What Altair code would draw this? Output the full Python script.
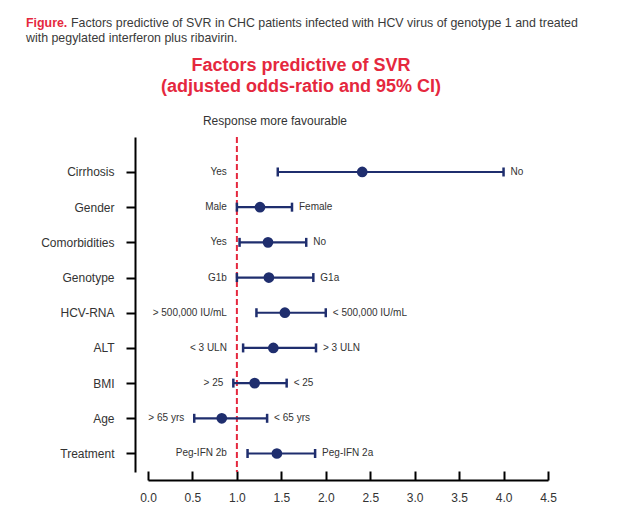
import altair as alt
import pandas as pd

# ---- data ----
factors = ["Cirrhosis", "Gender", "Comorbidities", "Genotype", "HCV-RNA",
           "ALT", "BMI", "Age", "Treatment"]
odds_ratio = [2.41, 1.26, 1.35, 1.36, 1.54, 1.41, 1.20, 0.83, 1.45]
ci_low = [1.46, 1.00, 1.03, 1.00, 1.22, 1.07, 0.96, 0.52, 1.12]
ci_high = [4.00, 1.62, 1.78, 1.86, 2.00, 1.89, 1.56, 1.34, 1.88]
left_labels = ["Yes", "Male", "Yes", "G1b", "> 500,000 IU/mL", "< 3 ULN",
               "> 25", "> 65 yrs", "Peg-IFN 2b"]
right_labels = ["No", "Female", "No", "G1a", "< 500,000 IU/mL", "> 3 ULN",
                "< 25", "< 65 yrs", "Peg-IFN 2a"]
x_ticks = [0.0, 0.5, 1.0, 1.5, 2.0, 2.5, 3.0, 3.5, 4.0, 4.5]
reference = [1.0]

caption_tag = "Figure."
caption_line1 = "Factors predictive of SVR in CHC patients infected with HCV virus of genotype 1 and treated"
caption_line2 = "with pegylated interferon plus ribavirin."
title_lines = ["Factors predictive of SVR", "(adjusted odds-ratio and 95% CI)"]
direction_note = "Response more favourable"

# ---- style ----
FONT = "Liberation Sans"
RED = "#e5283e"
NAVY = "#1f2e6e"
TEXT = "#333333"
W, H = 400, 335

df = pd.DataFrame({
    "factor": factors, "odds": odds_ratio, "low": ci_low, "high": ci_high,
    "left": left_labels, "right": right_labels,
})
ref_df = pd.DataFrame({"ref": reference})

x_scale = alt.Scale(domain=[0, 4.5], nice=False, zero=False)
y_scale = alt.Scale(type="point", padding=0.76, align=0.654)
y_enc = alt.Y(
    "factor:N", sort=factors, scale=y_scale,
    axis=alt.Axis(title=None, offset=13, domainColor="black", domainWidth=2,
                  tickColor="black", tickWidth=2, tickSize=9, labelPadding=12,
                  labelFontSize=12, labelFont=FONT, labelColor=TEXT, grid=False),
)
x_axis_bottom = alt.Axis(
    title=None, orient="bottom", offset=8, values=x_ticks, format=".1f",
    ticks=False, tickSize=0, domainColor="black", domainWidth=2,
    labelFontSize=12, labelFont=FONT, labelColor=TEXT, labelPadding=12,
    grid=False, labelFlush=False,
)
x_axis_ticks = alt.Axis(
    title=None, orient="top", offset=-(H + 8), values=x_ticks, labels=False,
    domain=False, ticks=True, tickSize=9, tickWidth=2, tickColor="black",
    grid=False,
)

base = alt.Chart(df)

ref_line = alt.Chart(ref_df).mark_rule(
    color=RED, strokeWidth=2, strokeDash=[6, 3]
).encode(x=alt.X("ref:Q", scale=x_scale, axis=None))

bars = base.mark_rule(color=NAVY, strokeWidth=2.2).encode(
    x=alt.X("low:Q", scale=x_scale, axis=x_axis_bottom),
    x2="high:Q",
    y=y_enc,
)

caps = base.transform_fold(["low", "high"], as_=["end", "val"]).mark_tick(
    color=NAVY, thickness=2.5, size=9, opacity=1
).encode(x=alt.X("val:Q", scale=x_scale, axis=None), y=y_enc)

points = base.mark_circle(color=NAVY, size=115, opacity=1).encode(
    x=alt.X("odds:Q", scale=x_scale, axis=x_axis_ticks),
    y=y_enc,
)

left_text = base.transform_calculate(anchor="min(datum.low, 1)").mark_text(
    align="right", baseline="middle", dx=-10, fontSize=10, font=FONT, color=TEXT
).encode(x=alt.X("anchor:Q", scale=x_scale, axis=None), y=y_enc, text="left:N")

right_text = base.mark_text(
    align="left", baseline="middle", dx=7, fontSize=10, font=FONT, color=TEXT
).encode(x=alt.X("high:Q", scale=x_scale, axis=None), y=y_enc, text="right:N")


def note(text, x, y, size, color, weight="normal", align="left"):
    return alt.Chart(pd.DataFrame({"t": [text]})).mark_text(
        align=align, baseline="middle", fontSize=size, font=FONT,
        fontWeight=weight, color=color,
    ).encode(x=alt.value(x), y=alt.value(y), text="t:N")


notes = [
    note(caption_tag, -122, -114, 12.4, RED, "bold"),
    note(caption_line1, -77, -114, 12.4, "#3a3a3a"),
    note(caption_line2, -122, -99, 12.4, "#3a3a3a"),
    note(title_lines[0], 153, -71, 18, RED, "bold", "center"),
    note(title_lines[1], 153, -50, 18, RED, "bold", "center"),
    note(direction_note, 127, -16, 12, TEXT, "normal", "center"),
]

chart = alt.layer(
    ref_line, bars, caps, points, left_text, right_text, *notes
).resolve_axis(x="independent").properties(
    width=W, height=H,
    padding={"left": 140, "top": 129, "right": 70, "bottom": 38},
    autosize=alt.AutoSizeParams(type="none"),
).configure_view(stroke=None)

chart.save("out.html", embed_options={"renderer": "svg", "actions": False})
